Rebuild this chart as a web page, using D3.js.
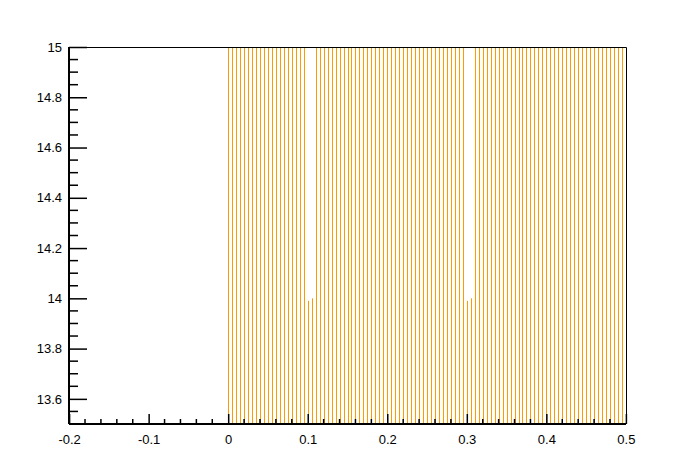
<!DOCTYPE html>
<html>
<head>
<meta charset="utf-8">
<script src="https://cdn.jsdelivr.net/npm/d3@7"></script>
<style>
  body { margin: 0; background: #fff; }
  text { font-family: "Liberation Sans", Arial, sans-serif; font-size: 13px; fill: #000; }
</style>
</head>
<body>
<div id="chart"></div>
<script>
// point positions along x
const xValues = [
  0, 0.005, 0.01, 0.015, 0.02, 0.025, 0.03, 0.035, 0.04, 0.045,
  0.05, 0.055, 0.06, 0.065, 0.07, 0.075, 0.08, 0.085, 0.09, 0.095,
  0.1, 0.105, 0.11, 0.115, 0.12, 0.125, 0.13, 0.135, 0.14, 0.145,
  0.15, 0.155, 0.16, 0.165, 0.17, 0.175, 0.18, 0.185, 0.19, 0.195,
  0.2, 0.205, 0.21, 0.215, 0.22, 0.225, 0.23, 0.235, 0.24, 0.245,
  0.25, 0.255, 0.26, 0.265, 0.27, 0.275, 0.28, 0.285, 0.29, 0.295,
  0.3, 0.305, 0.31, 0.315, 0.32, 0.325, 0.33, 0.335, 0.34, 0.345,
  0.35, 0.355, 0.36, 0.365, 0.37, 0.375, 0.38, 0.385, 0.39, 0.395,
  0.4, 0.405, 0.41, 0.415, 0.42, 0.425, 0.43, 0.435, 0.44, 0.445,
  0.45, 0.455, 0.46, 0.465, 0.47, 0.475, 0.48, 0.485, 0.49, 0.495,
  0.5
];

const yValues = [
  15, 15, 15, 15, 15, 15, 15, 15, 15, 15,
  15, 15, 15, 15, 15, 15, 15, 15, 15, 15,
  13.99, 14.0, 15, 15, 15, 15, 15, 15, 15, 15,
  15, 15, 15, 15, 15, 15, 15, 15, 15, 15,
  15, 15, 15, 15, 15, 15, 15, 15, 15, 15,
  15, 15, 15, 15, 15, 15, 15, 15, 15, 15,
  13.99, 14.0, 15, 15, 15, 15, 15, 15, 15, 15,
  15, 15, 15, 15, 15, 15, 15, 15, 15, 15,
  15, 15, 15, 15, 15, 15, 15, 15, 15, 15,
  15, 15, 15, 15, 15, 15, 15, 15, 15, 15,
  15
];

const xTickLabels = ["-0.2", "-0.1", "0", "0.1", "0.2", "0.3", "0.4", "0.5"];
const yTickLabels = ["13.6", "13.8", "14", "14.2", "14.4", "14.6", "14.8", "15"];

const W = 696, H = 472;
const padLeft = 69, padRight = 626, padTop = 47, padBottom = 424;

let svg = d3.select("#chart").append("svg")
  .attr("width", W)
  .attr("height", H);

svg.append("rect").attr("width", W).attr("height", H).attr("fill", "#fff");

let x = d3.scaleLinear().domain([-0.2, 0.5]).range([69.1, 625.9]);
let y = d3.scaleLinear().domain([13.5, 15]).range([padBottom, padTop]);

svg.append("clipPath").attr("id", "frame")
  .append("rect")
  .attr("x", padLeft).attr("y", padTop)
  .attr("width", padRight - padLeft).attr("height", padBottom - padTop);

// vertical drop lines
svg.append("g")
  .attr("clip-path", "url(#frame)")
  .selectAll("line")
  .data(xValues)
  .enter()
  .append("line")
  .attr("x1", d => Math.round(x(d)) + 0.5)
  .attr("x2", d => Math.round(x(d)) + 0.5)
  .attr("y1", padBottom)
  .attr("y2", (d, i) => y(yValues[i]))
  .attr("stroke", "#ff9900")
  .attr("stroke-width", 1);

// frame top and right
svg.append("path")
  .attr("d", `M${padLeft},${padTop + 0.5}H${padRight + 0.5}V${padBottom}`)
  .attr("fill", "none")
  .attr("stroke", "#000")
  .attr("stroke-width", 1);

// x axis
let xAxis = d3.axisTop(x)
  .tickValues(xTickLabels.map(Number))
  .tickSize(10)
  .tickFormat((d, i) => xTickLabels[i]);

let gx = svg.append("g").attr("transform", `translate(0,${padBottom})`).call(xAxis);
gx.select(".domain").attr("d", `M${padLeft},0H${padRight}`).attr("stroke-width", 2);
gx.selectAll(".tick line").attr("stroke-width", 1.5);
gx.selectAll(".tick text")
  .attr("y", 17)
  .attr("dy", "0")
  .attr("dominant-baseline", "middle")
  .style("font-size", "13px")
  .style("font-family", "Liberation Sans, Arial, sans-serif");

let xMinor = d3.range(-0.2, 0.5001, 0.02).filter((d, i) => i % 5 !== 0);
gx.append("g").selectAll("line")
  .data(xMinor)
  .enter()
  .append("line")
  .attr("x1", d => x(d)).attr("x2", d => x(d))
  .attr("y1", 0).attr("y2", -5)
  .attr("stroke", "#000")
  .attr("stroke-width", 1.5);

// y axis
let yAxis = d3.axisRight(y)
  .tickValues(yTickLabels.map(Number))
  .tickSize(18)
  .tickFormat((d, i) => yTickLabels[i]);

let gy = svg.append("g").attr("transform", `translate(${padLeft},0)`).call(yAxis);
gy.select(".domain").attr("d", `M0,${padBottom}V${padTop}`).attr("stroke-width", 2);
gy.selectAll(".tick line").attr("stroke-width", 1.5);
gy.selectAll(".tick text")
  .attr("x", -7)
  .attr("text-anchor", "end")
  .style("font-size", "13px")
  .style("font-family", "Liberation Sans, Arial, sans-serif");

// minor ticks every 0.05, skipping the labelled ones
let yMinor = d3.range(13.5, 15.0001, 0.05).filter((d, i) => i % 4 !== 2);
gy.append("g").selectAll("line")
  .data(yMinor)
  .enter()
  .append("line")
  .attr("x1", 0).attr("x2", 9)
  .attr("y1", d => y(d)).attr("y2", d => y(d))
  .attr("stroke", "#000")
  .attr("stroke-width", 1.5);
</script>
</body>
</html>
